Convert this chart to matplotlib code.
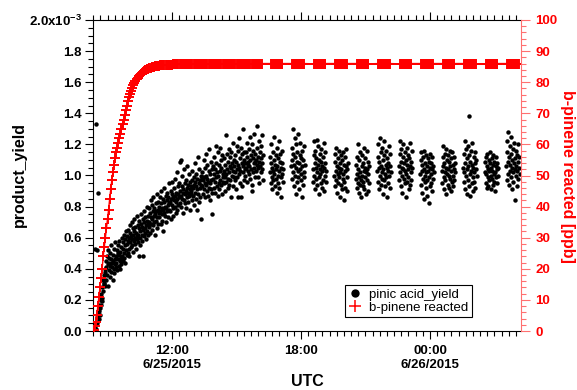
import numpy as np
import matplotlib
matplotlib.use("Agg")
import matplotlib.pyplot as plt
import matplotlib.dates as mdates
from matplotlib.ticker import MultipleLocator, FuncFormatter
from matplotlib.lines import Line2D

# ---------------------------------------------------------------------------
# Data
# ---------------------------------------------------------------------------
# pinic acid yield (x1e-3), 1-minute samples.
# Continuous record starting 2015-06-25 08:24
yield_start = "2015-06-25T08:24"
yield_continuous = [
    0.02, 0.04, 0.53, 0.06, 0.01, 1.33, 0.09, 0.05, 0.52, 0.11, 0.89, 0.08, 0.13, 0.17, 0.10,
    0.20, 0.15, 0.22, 0.17, 0.24, 0.19, 0.28, 0.21, 0.33, 0.26, 0.30, 0.36, 0.31, 0.40, 0.29,
    0.38, 0.45, 0.33, 0.41, 0.48, 0.36, 0.43, 0.52, 0.29, 0.44, 0.39, 0.47, 0.35, 0.50, 0.42,
    0.46, 0.38, 0.55, 0.41, 0.44, 0.33, 0.49, 0.45, 0.40, 0.53, 0.37, 0.46, 0.43, 0.57, 0.41,
    0.48, 0.44, 0.52, 0.39, 0.50, 0.46, 0.55, 0.42, 0.49, 0.58, 0.45, 0.51, 0.40, 0.47, 0.54,
    0.43, 0.60, 0.48, 0.53, 0.45, 0.57, 0.50, 0.62, 0.47, 0.55, 0.44, 0.59, 0.52, 0.64, 0.49,
    0.56, 0.61, 0.50, 0.58, 0.65, 0.53, 0.60, 0.48, 0.63, 0.57, 0.68, 0.54, 0.61, 0.59, 0.70,
    0.55, 0.62, 0.51, 0.66, 0.58, 0.64, 0.72, 0.56, 0.60, 0.67, 0.53, 0.63, 0.59, 0.74, 0.61,
    0.62, 0.68, 0.57, 0.48, 0.66, 0.71, 0.60, 0.64, 0.55, 0.69, 0.75, 0.62, 0.67, 0.58, 0.72,
    0.65, 0.48, 0.70, 0.61, 0.77, 0.66, 0.63, 0.73, 0.59, 0.68, 0.80, 0.64, 0.71, 0.62, 0.69,
    0.74, 0.67, 0.79, 0.70, 0.63, 0.76, 0.84, 0.69, 0.73, 0.65, 0.81, 0.72, 0.77, 0.68, 0.86,
    0.74, 0.70, 0.79, 0.62, 0.75, 0.82, 0.71, 0.77, 0.66, 0.88, 0.73, 0.78, 0.69, 0.83, 0.76,
    0.80, 0.73, 0.86, 0.77, 0.69, 0.82, 0.90, 0.75, 0.79, 0.71, 0.85, 0.78, 0.64, 0.83, 0.76,
    0.92, 0.80, 0.74, 0.87, 0.79, 0.70, 0.84, 0.77, 0.89, 0.81, 0.73, 0.86, 0.78, 0.95, 0.82,
    0.83, 0.77, 0.90, 0.85, 0.72, 0.88, 0.81, 0.96, 0.79, 0.86, 0.74, 0.92, 0.84, 0.80, 0.98,
    0.87, 0.76, 0.89, 0.83, 1.02, 0.85, 0.78, 0.93, 0.88, 0.81, 0.95, 0.86, 1.09, 0.82, 0.90,
    1.10, 0.87, 0.80, 0.93, 0.85, 1.00, 0.89, 0.76, 0.91, 0.84, 1.04, 0.88, 0.95, 0.82, 0.90,
    0.97, 0.79, 0.92, 0.86, 1.06, 0.89, 0.83, 0.94, 0.87, 1.01, 0.91, 0.78, 0.96, 0.88, 0.93,
    0.90, 0.97, 0.84, 1.03, 0.92, 0.87, 0.99, 0.81, 0.94, 1.08, 0.89, 0.96, 0.85, 1.01, 0.93,
    0.78, 0.98, 0.91, 1.12, 0.88, 0.95, 0.83, 1.04, 0.92, 0.97, 0.86, 1.00, 0.94, 0.72, 0.99,
    0.93, 1.02, 0.88, 0.97, 1.10, 0.91, 0.99, 1.05, 0.95, 0.86, 1.00, 0.94, 1.14, 0.90, 0.98,
    1.07, 0.87, 0.96, 1.03, 0.92, 1.17, 0.95, 0.84, 1.01, 0.97, 1.09, 0.91, 0.75, 1.04, 0.89,
    0.98, 1.06, 0.92, 1.12, 1.01, 0.89, 1.04, 0.96, 1.19, 0.99, 1.08, 0.93, 1.02, 0.87, 1.15,
    1.00, 0.95, 1.07, 0.91, 1.03, 1.18, 0.97, 1.10, 0.94, 1.05, 0.88, 1.13, 0.99, 1.01, 0.96,
    1.03, 0.95, 1.11, 0.99, 1.07, 0.90, 1.26, 1.01, 0.96, 1.14, 1.04, 0.92, 1.09, 0.98, 1.17,
    1.02, 0.94, 1.06, 1.12, 0.97, 1.05, 0.86, 1.15, 1.00, 1.08, 0.93, 1.21, 1.03, 0.99, 1.10,
    1.06, 0.97, 1.13, 1.02, 0.91, 1.09, 1.19, 1.04, 0.99, 1.16, 0.86, 1.07, 1.01, 1.24, 1.05,
    0.95, 1.11, 1.03, 1.18, 0.86, 1.08, 1.14, 0.93, 1.06, 1.30, 1.02, 1.10, 0.97, 1.15, 1.04,
    1.08, 1.00, 1.15, 1.05, 0.96, 1.12, 1.21, 1.03, 1.09, 1.07, 1.17, 1.06, 1.01, 1.25, 1.10,
    0.98, 1.13, 1.04, 1.20, 0.90, 0.94, 1.11, 1.02, 1.16, 1.08, 1.27, 1.05, 0.99, 1.14, 1.09,
    1.10, 1.03, 1.18, 1.07, 1.32, 0.99, 1.12, 1.05, 1.22, 1.09, 0.95, 1.15, 1.06, 1.19, 1.02,
    1.11, 1.08, 1.26, 1.04, 0.97, 1.13,
]

# Hourly sampling bursts (start time of each burst)
burst_starts = [
    "2015-06-25T16:33", "2015-06-25T17:33", "2015-06-25T18:33", "2015-06-25T19:33",
    "2015-06-25T20:33", "2015-06-25T21:33", "2015-06-25T22:33", "2015-06-25T23:33",
    "2015-06-26T00:33", "2015-06-26T01:33", "2015-06-26T02:33", "2015-06-26T03:33",
]
yield_1633 = [1.02, 1.12, 0.95, 1.08, 1.20, 0.99, 1.05, 0.91, 1.15, 1.03, 0.97, 1.10, 1.25, 1.01, 0.93, 1.07, 1.13, 0.98, 1.04,
              1.18, 0.89, 1.06, 1.00, 1.11, 0.95, 1.22, 1.03, 0.92, 1.09, 1.14, 0.99, 1.05, 0.86, 1.08, 1.01, 1.16, 0.96, 1.04]
yield_1733 = [1.06, 1.18, 0.98, 1.10, 1.30, 1.02, 1.14, 0.93, 1.07, 1.24, 1.00, 1.12, 0.88, 1.05, 1.20, 1.09, 0.96, 1.15, 1.03,
              1.27, 0.99, 1.08, 0.91, 1.13, 1.04, 1.21, 0.97, 1.11, 1.01, 0.86, 1.16, 1.06, 0.94, 1.10, 1.02, 1.19, 0.99, 1.07]
yield_1833 = [1.04, 0.96, 1.13, 1.22, 1.00, 1.08, 0.91, 1.16, 1.05, 0.98, 1.11, 1.23, 1.02, 0.94, 1.07, 1.19, 0.99, 1.10, 0.88,
              1.04, 1.14, 1.01, 0.95, 1.09, 1.17, 1.03, 0.92, 1.06, 1.12, 0.97, 1.21, 1.05, 0.90, 1.08, 1.00, 1.15, 0.96, 1.03]
yield_1933 = [1.00, 1.09, 0.93, 1.14, 1.03, 0.97, 1.18, 1.06, 0.89, 1.01, 1.11, 0.95, 1.05, 1.16, 0.99, 0.86, 1.08, 1.02, 1.13,
              0.94, 1.04, 0.91, 1.10, 0.98, 1.15, 1.01, 0.84, 1.07, 0.96, 1.12, 1.03, 0.92, 1.06, 1.17, 0.99, 1.04, 0.90, 1.08]
yield_2033 = [0.98, 1.07, 0.92, 1.12, 1.01, 0.95, 1.20, 1.04, 0.89, 0.99, 1.10, 0.94, 1.15, 1.02, 0.97, 0.86, 1.06, 1.00, 1.13,
              0.93, 1.08, 0.96, 1.18, 1.03, 0.91, 1.05, 0.99, 1.11, 0.88, 1.02, 1.16, 0.97, 1.04, 0.90, 1.09, 1.01, 0.95, 1.06]
yield_2133 = [1.03, 1.12, 0.96, 1.20, 1.05, 0.91, 1.09, 1.24, 1.00, 0.94, 1.15, 1.06, 0.98, 1.18, 1.02, 0.88, 1.10, 1.04, 0.97,
              1.13, 1.22, 1.01, 0.93, 1.07, 1.16, 0.99, 1.05, 0.86, 1.11, 1.03, 0.95, 1.08, 1.19, 1.00, 1.06, 0.92, 1.14, 1.02]
yield_2233 = [1.06, 0.97, 1.14, 1.02, 1.22, 0.93, 1.09, 1.17, 1.00, 1.05, 0.89, 1.12, 1.04, 1.20, 0.98, 1.08, 0.95, 1.15, 1.03,
              0.86, 1.10, 1.01, 1.18, 0.96, 1.07, 1.13, 0.99, 1.04, 0.91, 1.11, 1.06, 1.21, 0.94, 1.02, 1.09, 0.97, 1.16, 1.05]
yield_2333 = [1.01, 1.10, 0.94, 1.15, 1.03, 0.89, 1.07, 0.98, 1.12, 0.85, 1.04, 1.16, 0.96, 1.08, 1.00, 0.92, 1.13, 1.02, 0.87,
              1.06, 0.97, 1.11, 1.03, 0.82, 1.09, 0.99, 1.14, 1.05, 0.93, 1.01, 1.08, 0.95, 1.12, 1.04, 0.90, 1.06, 0.98, 1.02]
yield_0033 = [1.03, 0.95, 1.12, 1.06, 1.19, 0.99, 1.08, 0.91, 1.14, 1.02, 0.97, 1.17, 1.05, 0.88, 1.10, 1.01, 0.94, 1.13, 1.04,
              1.00, 0.92, 1.09, 1.16, 0.98, 1.06, 0.90, 1.11, 1.03, 0.96, 1.15, 1.07, 1.00, 0.93, 1.12, 1.04, 0.97, 1.08, 1.02]
yield_0133 = [1.05, 0.96, 1.14, 1.02, 1.22, 0.91, 1.08, 1.17, 1.00, 0.88, 1.11, 1.04, 0.97, 1.19, 1.06, 0.93, 1.13, 1.38, 1.01,
              0.87, 1.09, 1.03, 1.16, 0.95, 1.07, 1.21, 0.99, 1.05, 0.90, 1.12, 1.02, 0.96, 1.15, 1.08, 0.92, 1.04, 1.10, 1.00]
yield_0233 = [1.02, 1.09, 0.95, 1.12, 1.01, 0.92, 1.06, 1.14, 0.99, 1.04, 0.93, 1.10, 1.03, 0.97, 1.08, 1.15, 1.00, 0.91, 1.05,
              1.11, 0.98, 1.03, 0.94, 1.07, 1.13, 1.01, 0.96, 1.09, 1.02, 0.90, 1.06, 1.12, 0.99, 1.04, 0.95, 1.08, 1.00, 1.05]
yield_0333 = [1.06, 1.15, 0.97, 1.22, 1.09, 1.01, 1.28, 1.12, 0.94, 1.07, 1.19, 1.03, 0.99, 1.14, 1.25, 1.05, 0.91, 1.10, 1.17,
              1.02, 0.96, 1.08, 1.21, 1.04, 0.84, 1.11, 1.00, 1.16, 1.06, 0.93, 1.13, 1.03, 1.20, 0.98, 1.09, 1.05, 1.12, 1.01]
yield_bursts = [yield_1633, yield_1733, yield_1833, yield_1933, yield_2033, yield_2133,
                yield_2233, yield_2333, yield_0033, yield_0133, yield_0233, yield_0333]

# b-pinene reacted (ppb), 3-minute samples from 08:21
pinene_start = "2015-06-25T08:21"
pinene_continuous = [
    0.3, 1.5, 3.0, 5.0, 8.0, 11.0, 14.0, 17.0, 20.0, 24.0, 27.0, 30.0, 33.0, 36.0, 39.0, 42.5, 45.5, 48.5, 51.0, 53.5,
    55.5, 57.5, 59.0, 60.5, 62.0, 63.5, 65.0, 66.5, 68.0, 69.5, 71.0, 72.5, 74.0, 75.2, 76.3, 77.3, 78.2, 79.0, 79.7, 80.3,
    80.9, 81.4, 81.9, 82.3, 82.7, 83.0, 83.3, 83.6, 83.8, 84.0, 84.2, 84.4, 84.5, 84.7, 84.8, 84.9, 85.0, 85.1, 85.2, 85.2,
    85.3, 85.3, 85.4, 85.4, 85.4, 85.5, 85.5, 85.5, 85.5, 85.6, 85.6, 85.6, 85.6, 85.6, 85.7, 85.7, 85.7, 85.7, 85.7, 85.7,
    85.7, 85.8, 85.8, 85.7, 85.8, 85.8, 85.9, 85.8, 85.8, 85.8, 85.9, 85.8, 85.8, 85.9, 85.8, 85.9, 85.8, 85.9, 85.9, 85.8,
    85.9, 85.8, 85.9, 85.9, 85.9, 85.8, 85.9, 85.9, 85.9, 85.9, 85.8, 85.9, 85.9, 85.9, 86.0, 85.9, 85.9, 85.9, 86.0, 85.9,
    85.9, 86.0, 85.9, 85.9, 86.0, 85.9, 86.0, 85.9, 86.0, 86.0, 85.9, 86.0, 86.0, 85.9, 86.0, 86.0, 86.0, 85.9, 86.0, 86.0,
    86.0, 86.0, 85.9, 86.0, 86.0, 86.0, 86.0, 85.9, 86.0, 86.0, 86.0, 86.0, 86.0, 86.0, 86.0, 86.0, 86.0, 86.0,
]
# 2-minute samples during each hourly burst, starting at HH:36
pinene_burst_starts = [
    "2015-06-25T16:36", "2015-06-25T17:36", "2015-06-25T18:36", "2015-06-25T19:36",
    "2015-06-25T20:36", "2015-06-25T21:36", "2015-06-25T22:36", "2015-06-25T23:36",
    "2015-06-26T00:36", "2015-06-26T01:36", "2015-06-26T02:36", "2015-06-26T03:36",
]
pinene_1636 = [86.0, 86.0, 85.9, 86.0, 86.0, 86.0, 85.9, 86.0, 86.0, 86.0, 85.9, 86.0, 86.0, 86.0, 86.0, 85.9, 86.0]
pinene_1736 = [86.0, 85.9, 86.0, 86.0, 86.0, 86.0, 85.9, 86.0, 86.0, 86.0, 86.0, 85.9, 86.0, 86.0, 86.0, 86.0, 86.0]
pinene_1836 = [85.9, 86.0, 86.0, 86.0, 85.9, 86.0, 86.0, 86.0, 86.0, 85.9, 86.0, 86.0, 86.0, 86.0, 85.9, 86.0, 86.0]
pinene_1936 = [86.0, 86.0, 86.0, 85.9, 86.0, 86.0, 86.0, 85.9, 86.0, 86.0, 86.0, 86.0, 85.9, 86.0, 86.0, 86.0, 86.0]
pinene_2036 = [86.0, 85.9, 86.0, 86.0, 86.0, 85.9, 86.0, 86.0, 86.0, 86.0, 85.9, 86.0, 86.0, 86.0, 86.0, 86.0, 85.9]
pinene_2136 = [86.0, 86.0, 85.9, 86.0, 86.0, 86.0, 86.0, 85.9, 86.0, 86.0, 86.0, 85.9, 86.0, 86.0, 86.0, 86.0, 86.0]
pinene_2236 = [85.9, 86.0, 86.0, 86.0, 85.9, 86.0, 86.0, 86.0, 86.0, 86.0, 85.9, 86.0, 86.0, 86.0, 85.9, 86.0, 86.0]
pinene_2336 = [86.0, 86.0, 86.0, 85.9, 86.0, 86.0, 85.9, 86.0, 86.0, 86.0, 86.0, 86.0, 85.9, 86.0, 86.0, 86.0, 86.0]
pinene_0036 = [86.0, 85.9, 86.0, 86.0, 86.0, 86.0, 86.0, 85.9, 86.0, 86.0, 86.0, 86.0, 86.0, 85.9, 86.0, 86.0, 86.0]
pinene_0136 = [86.0, 86.0, 85.9, 86.0, 86.0, 85.9, 86.0, 86.0, 86.0, 86.0, 86.0, 85.9, 86.0, 86.0, 86.0, 86.0, 85.9]
pinene_0236 = [85.9, 86.0, 86.0, 86.0, 86.0, 86.0, 85.9, 86.0, 86.0, 86.0, 86.0, 86.0, 86.0, 85.9, 86.0, 86.0, 86.0]
pinene_0336 = [86.0, 86.0, 86.0, 85.9, 86.0, 86.0, 86.0, 86.0, 86.0, 85.9, 86.0, 86.0, 86.0, 86.0, 86.0, 86.0, 86.0]
pinene_bursts = [pinene_1636, pinene_1736, pinene_1836, pinene_1936, pinene_2036, pinene_2136,
                 pinene_2236, pinene_2336, pinene_0036, pinene_0136, pinene_0236, pinene_0336]

legend_labels = ["pinic acid_yield", "b-pinene reacted"]


def sample_times(start, n, step_minutes):
    return np.datetime64(start) + np.arange(n) * np.timedelta64(step_minutes, "m")


yield_t = [sample_times(yield_start, len(yield_continuous), 1)]
yield_v = [np.array(yield_continuous)]
for s, vals in zip(burst_starts, yield_bursts):
    yield_t.append(sample_times(s, len(vals), 1))
    yield_v.append(np.array(vals))
yield_t = np.concatenate(yield_t)
yield_v = np.concatenate(yield_v)

pin_t = [sample_times(pinene_start, len(pinene_continuous), 3)]
pin_v = [np.array(pinene_continuous)]
for s, vals in zip(pinene_burst_starts, pinene_bursts):
    pin_t.append(sample_times(s, len(vals), 2))
    pin_v.append(np.array(vals))
pin_t = np.concatenate(pin_t)
pin_v = np.concatenate(pin_v)

# ---------------------------------------------------------------------------
# Figure
# ---------------------------------------------------------------------------
plt.rcParams.update({
    "font.family": "Liberation Sans",
    "font.weight": "bold",
    "font.size": 9.5,
    "mathtext.fontset": "custom",
    "mathtext.rm": "Liberation Sans:bold",
    "mathtext.default": "rm",
    "axes.linewidth": 0.8,
})

W, H = 577, 390
fig = plt.figure(figsize=(W / 100, H / 100), dpi=100)
L, R, T, B = 93, 521, 20, 331
ax = fig.add_axes([L / W, 1 - B / H, (R - L) / W, (B - T) / H])
ax2 = ax.twinx()

ax.plot(yield_t, yield_v, linestyle="none", marker="o", ms=3.2, mew=0, color="black")
ax2.plot(pin_t, pin_v, color="#ff0000", lw=1.0, marker="+", ms=6.5, mew=1.4)

ax.set_xlim(np.datetime64("2015-06-25T08:19:30"), np.datetime64("2015-06-26T04:14"))
ax.set_ylim(0, 2.0)
ax2.set_ylim(0, 100)


def time_label(x, pos):
    d = mdates.num2date(x)
    s = d.strftime("%H:%M")
    if d.hour in (0, 12):
        s += "\n%d/%d/%d" % (d.month, d.day, d.year)
    return s


ax.xaxis.set_major_locator(mdates.HourLocator(byhour=[0, 6, 12, 18]))
ax.xaxis.set_minor_locator(mdates.MinuteLocator(byminute=[0, 20, 40]))
ax.xaxis.set_major_formatter(FuncFormatter(time_label))

ax.yaxis.set_major_locator(MultipleLocator(0.2))
ax.yaxis.set_minor_locator(MultipleLocator(0.05))
ax.yaxis.set_major_formatter(FuncFormatter(
    lambda v, p: "2.0x10$^{-3}$" if abs(v - 2.0) < 1e-9 else "%.1f" % v))

ax2.yaxis.set_major_locator(MultipleLocator(10))
ax2.yaxis.set_minor_locator(MultipleLocator(2))

ax.tick_params(axis="x", which="major", length=6, width=0.8, top=True, pad=4)
ax.tick_params(axis="x", which="minor", length=3.5, width=0.8, top=True)
ax.tick_params(axis="y", which="major", length=6, width=0.8, pad=2)
ax.tick_params(axis="y", which="minor", length=3.5, width=0.8)

pink = "#ff7070"
ax2.tick_params(axis="y", which="major", length=6.5, width=0.8, color=pink,
                labelcolor="#ff0000", pad=4)
ax2.tick_params(axis="y", which="minor", length=3.5, width=0.8, color=pink)
ax.spines["right"].set_visible(False)
ax2.spines["right"].set_color(pink)
for side in ("left", "top", "bottom"):
    ax2.spines[side].set_visible(False)

fig.text(19 / W, 1 - 175 / H, "product_yield", rotation=90, ha="center", va="center",
         fontsize=11.5)
fig.text(567 / W, 1 - 176 / H, "b-pinene reacted [ppb]", rotation=270, ha="center",
         va="center", fontsize=11.5, color="#ff0000")
fig.text(307 / W, 1 - 381 / H, "UTC", ha="center", va="center", fontsize=11.5)

handles = [
    Line2D([], [], linestyle="none", marker="o", ms=6, mew=0, color="black"),
    Line2D([], [], linestyle="none", marker="+", ms=8, mew=1.1, color="#ff0000"),
]
leg = fig.legend(handles, legend_labels, loc="upper left",
                 bbox_to_anchor=(345 / W, 1 - 285 / H), borderaxespad=0,
                 frameon=True, fancybox=False, edgecolor="black", framealpha=1,
                 borderpad=0.25, handlelength=1.0, handletextpad=0.6,
                 labelspacing=0.1, prop={"weight": "normal", "size": 9.5})
leg.get_frame().set_linewidth(0.8)

fig.savefig("out.png", dpi=100)
